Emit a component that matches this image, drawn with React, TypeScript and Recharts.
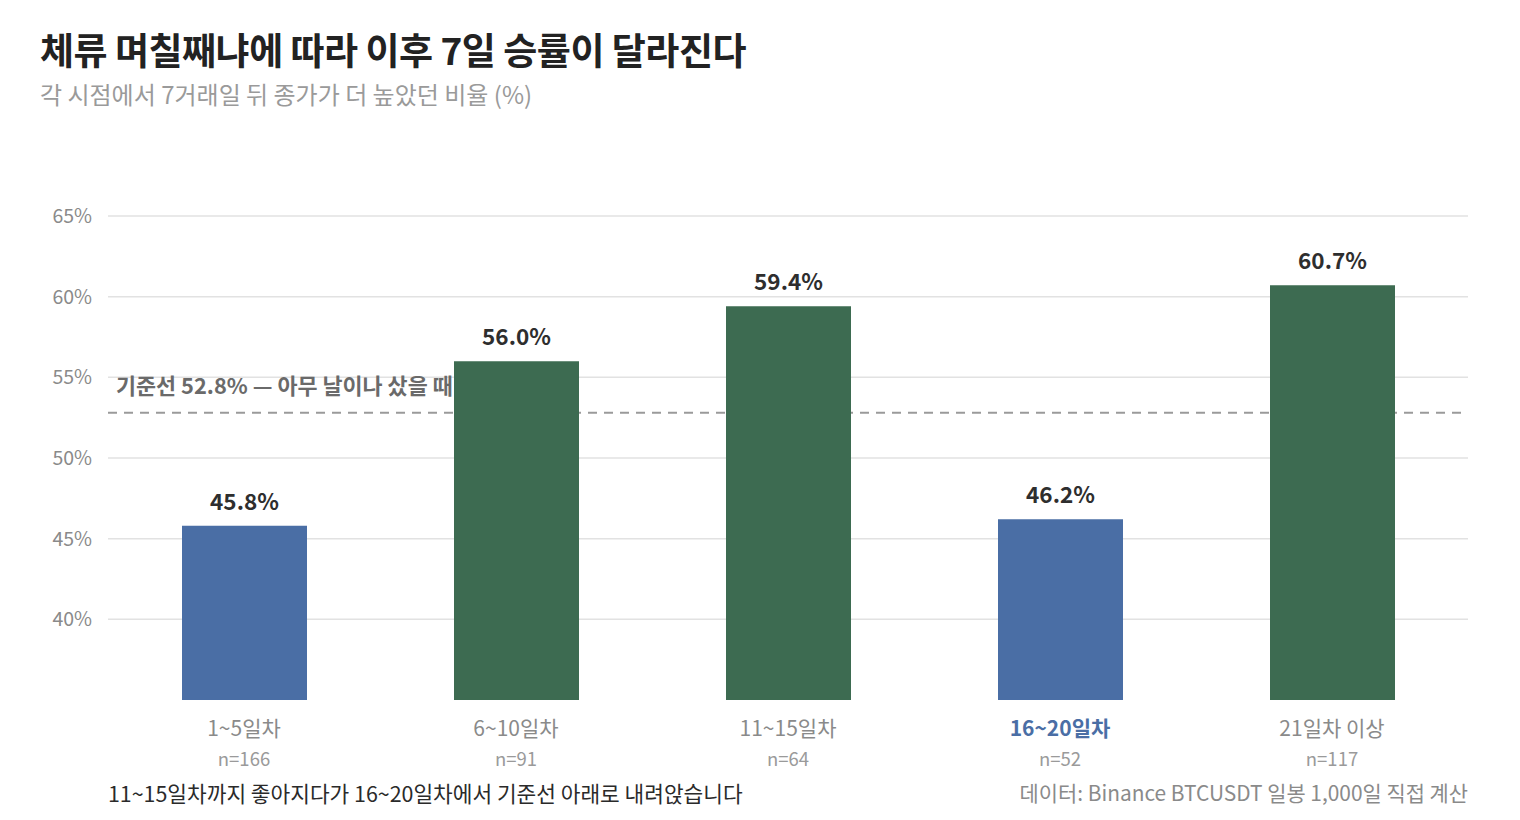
import React from "react";
import { BarChart, Bar, XAxis, YAxis, CartesianGrid, ReferenceLine, LabelList, Cell, Label } from "recharts";

const categories = ["1~5일차", "6~10일차", "11~15일차", "16~20일차", "21일차 이상"];
const winRates = [45.8, 56.0, 59.4, 46.2, 60.7];
const sampleSizes = [166, 91, 64, 52, 117];
const barColors = ["#4a6ea5", "#3d6b51", "#3d6b51", "#4a6ea5", "#3d6b51"];
const highlighted = ["16~20일차"];
const yTicks = [40, 45, 50, 55, 60, 65];
const baseline = 52.8;

const data = categories.map((c, i) => ({ name: c, value: winRates[i], n: sampleSizes[i], color: barColors[i] }));

const FONT = '"Noto Sans CJK KR", "Noto Sans", sans-serif';

const XTick = (props: any) => {
  const { x, y, payload, index } = props;
  const hl = highlighted.includes(payload.value);
  return (
    <g>
      <text x={x} y={y} dy={28} textAnchor="middle" fontFamily={FONT} fontSize={21}
        fill={hl ? "#4a6ea5" : "#8a8a8a"} fontWeight={hl ? 700 : 400}>
        {payload.value}
      </text>
      <text x={x} y={y} dy={58} textAnchor="middle" fontFamily={FONT} fontSize={18.5} fill="#9a9a9a">
        {`n=${sampleSizes[index]}`}
      </text>
    </g>
  );
};

const YTick = (props: any) => {
  const { y, payload } = props;
  return (
    <text x={92} y={y} dy={7} textAnchor="end" fontFamily={FONT} fontSize={19.5} fill="#8a8a8a">
      {`${payload.value}%`}
    </text>
  );
};

const BaselineLabel = (props: any) => {
  const { viewBox } = props;
  return (
    <text x={viewBox.x + 8} y={viewBox.y - 19} fontFamily={FONT} fontSize={21.8} fontWeight={700} fill="#6a6a6a">
      {`기준선 ${baseline}% — 아무 날이나 샀을 때`}
    </text>
  );
};

export default function App() {
  return (
    <div style={{ position: "absolute", left: 0, top: 0, width: 1520, height: 820, background: "#fff", fontFamily: FONT }}>
      <div style={{ position: "absolute", left: 40, top: 22, fontSize: 37, fontWeight: 700, color: "#222", letterSpacing: -0.5, whiteSpace: "nowrap" }}>
        체류 며칠째냐에 따라 이후 7일 승률이 달라진다
      </div>
      <div style={{ position: "absolute", left: 40, top: 76, fontSize: 24, color: "#9a9a9a", whiteSpace: "nowrap" }}>
        각 시점에서 7거래일 뒤 종가가 더 높았던 비율 (%)
      </div>
      <div style={{ position: "absolute", left: 0, top: 0 }}>
        <BarChart width={1520} height={820} data={data} margin={{ top: 216, right: 52, bottom: 40, left: 48 }}>
          <CartesianGrid vertical={false} stroke="#e2e2e2" strokeWidth={1.5} horizontalValues={yTicks} />
          <YAxis domain={[35, 65]} ticks={yTicks} width={60} axisLine={false} tickLine={false} tick={<YTick />} allowDataOverflow />
          <XAxis dataKey="name" height={80} axisLine={false} tickLine={false} tick={<XTick />} interval={0} />
          <ReferenceLine y={baseline} stroke="#9a9a9a" strokeWidth={2} strokeDasharray="9 7" zIndex={-10}>
            <Label content={<BaselineLabel />} zIndex={-10} />
          </ReferenceLine>
          <Bar dataKey="value" barSize={125} isAnimationActive={false}>
            {data.map((d, i) => (
              <Cell key={i} fill={d.color} />
            ))}
            <LabelList dataKey="value" position="top" offset={16}
              formatter={(v: any) => `${Number(v).toFixed(1)}%`}
              style={{ fontFamily: FONT, fontSize: 22.5, fontWeight: 700, fill: "#2e2e2e" }} />
          </Bar>
        </BarChart>
      </div>
      <div style={{ position: "absolute", left: 108, top: 777, fontSize: 21.4, color: "#2a2a2a", whiteSpace: "nowrap" }}>
        11~15일차까지 좋아지다가 16~20일차에서 기준선 아래로 내려앉습니다
      </div>
      <div style={{ position: "absolute", right: 52, top: 777, fontSize: 20.9, color: "#8a8a8a", whiteSpace: "nowrap" }}>
        데이터: Binance BTCUSDT 일봉 1,000일 직접 계산
      </div>
    </div>
  );
}
